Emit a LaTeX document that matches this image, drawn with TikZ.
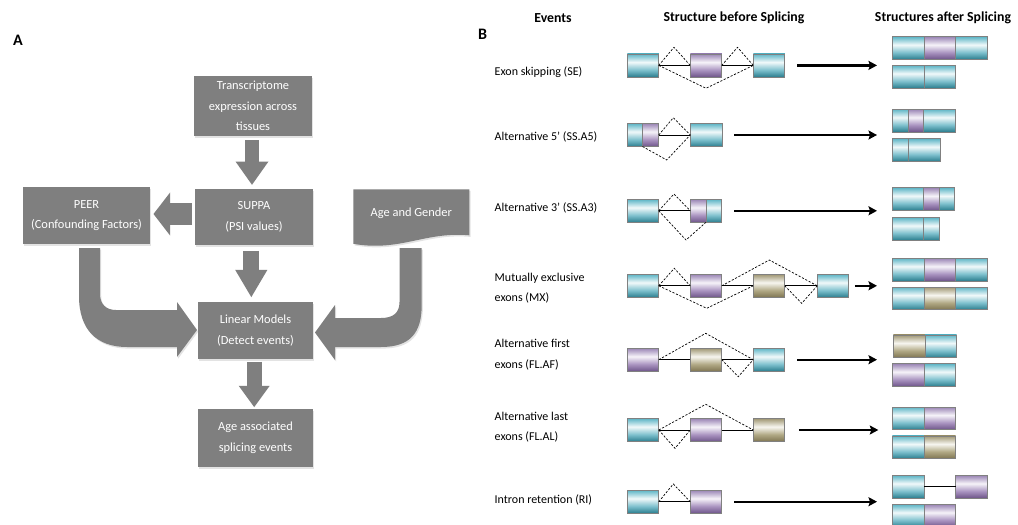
\documentclass[tikz,border=0pt]{standalone}
\usepackage{fontspec}
\setmainfont{Carlito}
\usetikzlibrary{arrows.meta,shadows}

% flow chart grey
\definecolor{boxgray}{HTML}{7F7F7F}
% exon colours: top, white, mid, dark
\definecolor{tealT}{HTML}{5DB5C6}
\definecolor{tealW}{HTML}{F1F9FA}
\definecolor{tealM}{HTML}{7DC0CD}
\definecolor{tealD}{HTML}{2B7D8E}
\definecolor{purpT}{HTML}{9A85B5}
\definecolor{purpW}{HTML}{F6F3F9}
\definecolor{purpM}{HTML}{A993C0}
\definecolor{purpD}{HTML}{6E5589}
\definecolor{khakT}{HTML}{A09774}
\definecolor{khakW}{HTML}{F7F6F0}
\definecolor{khakM}{HTML}{B0A884}
\definecolor{khakD}{HTML}{7F7552}

\pgfdeclareverticalshading{tealx}{100bp}{color(0bp)=(tealD); color(25bp)=(tealD); color(40bp)=(tealM); color(57bp)=(tealW); color(75bp)=(tealT); color(100bp)=(tealT)}
\pgfdeclareverticalshading{purplex}{100bp}{color(0bp)=(purpD); color(25bp)=(purpD); color(40bp)=(purpM); color(57bp)=(purpW); color(75bp)=(purpT); color(100bp)=(purpT)}
\pgfdeclareverticalshading{khakix}{100bp}{color(0bp)=(khakD); color(25bp)=(khakD); color(40bp)=(khakM); color(57bp)=(khakW); color(75bp)=(khakT); color(100bp)=(khakT)}

% exon segment: name, shading, left x, right x, centre y, height
\newcommand\xseg[6]{\node[exon, shading=#2, minimum width={(#4-#3)*1pt}, minimum height=#6] (#1) at ({(#3+#4)/2},#5) {};}

\begin{document}
\begin{tikzpicture}[x=1pt,y=-1pt,
  softshadow/.style={drop shadow={opacity=0.22, shadow xshift=1.2pt, shadow yshift=-1.6pt}},
  paneltext/.style={text=white, align=center, inner sep=0pt, font=\fontsize{12.4}{20.5}\selectfont},
  panelbox/.style={paneltext, fill=boxgray, softshadow},
  blockarrow/.style n args={3}{draw=boxgray, line width=#1, -{Triangle[width=#2, length=#3, line width=0pt]}},
  letter/.style={font=\bfseries\fontsize{16}{18}\selectfont, inner sep=0pt},
  header/.style={font=\bfseries\fontsize{13.8}{16}\selectfont, inner sep=0pt},
  evlabel/.style={anchor=west, align=left, inner sep=0pt, font=\fontsize{12}{20.5}\selectfont},
  exon/.style={draw=black!50, line width=0.6pt, shade, inner sep=0pt, outer sep=0pt},
  intron/.style={line width=0.9pt},
  junction/.style={line width=0.7pt, dash pattern=on 2.2pt off 1.6pt},
  splice/.style={line width=2.2pt, -{Stealth[length=8.5pt, width=9pt, inset=1.5pt]}}
]
\useasboundingbox[fill=white] (0,0) rectangle (1018,525);

% ---------------- panel A: analysis workflow ----------------
\node[letter] (pa) at (18,40) {A};

\node[panelbox, minimum width=118pt, minimum height=60pt] (trans) at (253,106) {Transcriptome\\expression across\\tissues};
\node[panelbox, minimum width=118pt, minimum height=56pt] (suppa) at (254,217) {SUPPA\\(PSI values)};
\node[panelbox, minimum width=127pt, minimum height=57pt] (peer) at (86.5,215.5) {PEER\\(Confounding Factors)};
\node[panelbox, minimum width=115pt, minimum height=57pt] (linear) at (255.5,330.5) {Linear Models\\(Detect events)};
\node[panelbox, minimum width=115pt, minimum height=58pt] (assoc) at (255.5,438) {Age associated\\splicing events};

% document-shaped covariate box
\fill[boxgray, softshadow] (353.3,189.3) -- (469.3,189.3) -- (469.3,235.3)
  .. controls (425,231.3) and (400,252) .. (353.3,243.8) -- cycle;
\node[paneltext] (ag) at (411.3,213.3) {Age and Gender};

% straight block arrows
\draw[blockarrow={14.3pt}{33pt}{23.3pt}, shorten <=4pt, shorten >=4pt]
  ([xshift=-1pt]trans.south) -- ([xshift=-1pt]trans.south |- suppa.north);
\draw[blockarrow={21.7pt}{43.3pt}{16.7pt}, shorten <=3.3pt, shorten >=3.3pt]
  ([yshift=3pt]suppa.west) -- ([yshift=3pt]suppa.west -| peer.east);
\draw[blockarrow={16pt}{32.3pt}{27.3pt}, shorten <=5.7pt, shorten >=4.7pt]
  ([xshift=-2.7pt]suppa.south) -- ([xshift=-2.7pt]suppa.south |- linear.north);
\draw[blockarrow={15pt}{31pt}{21.3pt}, shorten <=2.7pt, shorten >=1.7pt]
  ([xshift=-1.3pt]linear.south) -- ([xshift=-1.3pt]linear.south |- assoc.north);

% bent block arrows into the linear models
\fill[boxgray, softshadow] (79,248) -- (79,296) .. controls (79,330) and (97,347) .. (127,347)
  -- (177,347) -- (177,357) -- (197,330) -- (177,302) -- (177,310) -- (116,310)
  .. controls (106,310) and (100,304) .. (100,294) -- (100,248) -- cycle;
\fill[boxgray, softshadow] (399.5,248) -- (399.5,302) .. controls (399.5,313) and (393,318) .. (381,318)
  -- (335,318) -- (335,305) -- (315,332.5) -- (335,360) -- (335,347) -- (381,347)
  .. controls (410,347) and (421.7,333) .. (421.7,305) -- (421.7,248) -- cycle;

% ---------------- panel B: splicing event types ----------------
\node[letter] (pb) at (482.5,34) {B};
\node[header] (h1) at (553,18.3) {Events};
\node[header] (h2) at (734,18.3) {Structure before Splicing};
\node[header] (h3) at (943,18.3) {Structures after Splicing};

\node[evlabel] (l1) at (494.5,71.7) {Exon skipping (SE)};
\node[evlabel] (l2) at (494.5,136.7) {Alternative 5’ (SS.A5)};
\node[evlabel] (l3) at (494.5,208.3) {Alternative 3’ (SS.A3)};
\node[evlabel] (l4) at (494.5,288.3) {Mutually exclusive\\exons (MX)};
\node[evlabel] (l5) at (494.5,354.5) {Alternative first\\exons (FL.AF)};
\node[evlabel] (l6) at (494.5,427) {Alternative last\\exons (FL.AL)};
\node[evlabel] (l7) at (494.5,500) {Intron retention (RI)};

% row 1: exon skipping
\xseg{a1}{tealx}{627.25}{658.75}{65.4}{23pt}
\xseg{a2}{purplex}{690.25}{721.75}{65.4}{23pt}
\xseg{a3}{tealx}{753.25}{784.75}{65.4}{23pt}
\draw[intron] (a1.east) -- (a2.west);
\draw[intron] (a2.east) -- (a3.west);
\coordinate (a1u) at (674,47.3);
\coordinate (a2u) at (737.5,47.3);
\coordinate (a1d) at (706,88.3);
\draw[junction] (a1.east) -- (a1u) -- (a2.west);
\draw[junction] (a2.east) -- (a2u) -- (a3.west);
\draw[junction] (a1.east) -- (a1d) -- (a3.west);
\coordinate (t1) at (877,65.5);
\draw[splice] ([xshift=12.5pt]a3.east) -- (a3.east -| t1);
\xseg{b1a}{tealx}{892.3}{924}{48}{22.6pt}
\xseg{b1b}{purplex}{924}{955.6}{48}{22.6pt}
\xseg{b1c}{tealx}{955.6}{987.3}{48}{22.6pt}
\xseg{c1a}{tealx}{892.3}{924}{76.7}{22.6pt}
\xseg{c1b}{tealx}{924}{955.6}{76.7}{22.6pt}

% row 2: alternative 5' splice site
\xseg{a4}{tealx}{627.25}{642.5}{135}{23pt}
\xseg{a5}{purplex}{642.5}{658.75}{135}{23pt}
\xseg{a6}{tealx}{690.25}{722}{135}{23pt}
\draw[intron] (a5.east) -- (a6.west);
\coordinate (a5u) at (673.3,117.7);
\coordinate (a5d) at (666.7,160);
\draw[junction] (a5.east) -- (a5u) -- (a6.west);
\draw[junction] (a5.south west) -- (a5d) -- (a6.west);
\coordinate (t2) at (877,135.5);
\draw[splice] ([xshift=12.3pt]a6.east) -- (a6.east -| t2);
\xseg{b2a}{tealx}{892.3}{908.3}{120.5}{22.6pt}
\xseg{b2b}{purplex}{908.3}{923.3}{120.5}{22.6pt}
\xseg{b2c}{tealx}{923.3}{955}{120.5}{22.6pt}
\xseg{c2a}{tealx}{892.3}{908.3}{150}{22.6pt}
\xseg{c2b}{tealx}{908.3}{940}{150}{22.6pt}

% row 3: alternative 3' splice site
\xseg{a7}{tealx}{627.25}{658.75}{210.8}{23pt}
\xseg{a8}{purplex}{690.25}{706}{210.8}{23pt}
\xseg{a9}{tealx}{706}{721.75}{210.8}{23pt}
\draw[intron] (a7.east) -- (a8.west);
\coordinate (a7u) at (674,194);
\coordinate (a7d) at (686,240);
\draw[junction] (a7.east) -- (a7u) -- (a8.west);
\draw[junction] (a7.east) -- (a7d) -- (a9.south west);
\coordinate (t3) at (877,211);
\draw[splice] ([xshift=12.5pt]a9.east) -- (a9.east -| t3);
\xseg{b3a}{tealx}{892.3}{923.3}{199}{22.6pt}
\xseg{b3b}{purplex}{923.3}{939.7}{199}{22.6pt}
\xseg{b3c}{tealx}{939.7}{954.3}{199}{22.6pt}
\xseg{c3a}{tealx}{892.3}{923.3}{228.8}{22.6pt}
\xseg{c3b}{tealx}{923.3}{939.7}{228.8}{22.6pt}

% row 4: mutually exclusive exons
\xseg{a10}{tealx}{627.25}{658.75}{285.8}{23pt}
\xseg{a11}{purplex}{690.25}{721.75}{285.8}{23pt}
\xseg{a12}{khakix}{753.25}{784.75}{285.8}{23pt}
\xseg{a13}{tealx}{817.25}{848.75}{285.8}{23pt}
\draw[intron] (a10.east) -- (a11.west);
\draw[intron] (a11.east) -- (a12.west);
\draw[intron] (a12.east) -- (a13.west);
\coordinate (a10u) at (674.3,268.3);
\coordinate (a10d) at (706.7,308.3);
\coordinate (a11u) at (769.3,260);
\coordinate (a12d) at (801.7,303.3);
\draw[junction] (a10.east) -- (a10u) -- (a11.west);
\draw[junction] (a10.east) -- (a10d) -- (a12.west);
\draw[junction] (a11.east) -- (a11u) -- (a13.west);
\draw[junction] (a12.east) -- (a12d) -- (a13.west);
\coordinate (t4) at (877,285.8);
\draw[splice] ([xshift=6pt]a13.east) -- (a13.east -| t4);
\xseg{b4a}{tealx}{892.3}{924}{269.5}{22.6pt}
\xseg{b4b}{purplex}{924}{955.6}{269.5}{22.6pt}
\xseg{b4c}{tealx}{955.6}{987.3}{269.5}{22.6pt}
\xseg{c4a}{tealx}{892.3}{924}{298.3}{22.6pt}
\xseg{c4b}{khakix}{924}{955.6}{298.3}{22.6pt}
\xseg{c4c}{tealx}{955.6}{987.3}{298.3}{22.6pt}

% row 5: alternative first exons
\xseg{a14}{purplex}{627.25}{658.75}{359.7}{23pt}
\xseg{a15}{khakix}{690.25}{721.75}{359.7}{23pt}
\xseg{a16}{tealx}{753.25}{784.75}{359.7}{23pt}
\draw[intron] (a14.east) -- (a15.west);
\draw[intron] (a15.east) -- (a16.west);
\coordinate (a14u) at (705.7,333.3);
\coordinate (a15d) at (738.3,376.7);
\draw[junction] (a14.east) -- (a14u) -- (a16.west);
\draw[junction] (a15.east) -- (a15d) -- (a16.west);
\coordinate (t5) at (877,359.5);
\draw[splice] ([xshift=12.5pt]a16.east) -- (a16.east -| t5);
\xseg{b5a}{khakix}{893.3}{925}{346.2}{22.6pt}
\xseg{b5b}{tealx}{925}{956.7}{346.2}{22.6pt}
\xseg{c5a}{purplex}{892.3}{924}{375}{22.6pt}
\xseg{c5b}{tealx}{924}{955.6}{375}{22.6pt}

% row 6: alternative last exons
\xseg{a17}{tealx}{627.25}{658.75}{430}{23pt}
\xseg{a18}{purplex}{690.25}{721.75}{430}{23pt}
\xseg{a19}{khakix}{753.25}{784.75}{430}{23pt}
\draw[intron] (a17.east) -- (a18.west);
\draw[intron] (a18.east) -- (a19.west);
\coordinate (a17u) at (705.7,404.3);
\coordinate (a17d) at (675,448.3);
\draw[junction] (a17.east) -- (a17u) -- (a19.west);
\draw[junction] (a17.east) -- (a17d) -- (a18.west);
\coordinate (t6) at (878.3,430);
\draw[splice] ([xshift=14pt]a19.east) -- (a19.east -| t6);
\xseg{b6a}{tealx}{892.3}{924}{418.3}{22.6pt}
\xseg{b6b}{purplex}{924}{955.6}{418.3}{22.6pt}
\xseg{c6a}{tealx}{892.3}{924}{447.2}{22.6pt}
\xseg{c6b}{khakix}{924}{955.6}{447.2}{22.6pt}

% row 7: intron retention
\xseg{a20}{tealx}{627.25}{658.75}{501.7}{23pt}
\xseg{a21}{purplex}{690.25}{721.75}{501.7}{23pt}
\draw[intron] (a20.east) -- (a21.west);
\coordinate (a20u) at (673.3,484);
\draw[junction] (a20.east) -- (a20u) -- (a21.west);
\coordinate (t7) at (877,501);
\draw[splice] ([xshift=12.5pt]a21.east) -- (a21.east -| t7);
\xseg{b7a}{tealx}{892.3}{924}{486.7}{22.6pt}
\xseg{b7b}{purplex}{955.6}{987.3}{486.7}{22.6pt}
\draw[intron] (b7a.east) -- (b7b.west);
\xseg{c7a}{tealx}{892.3}{924}{515.7}{22.6pt}
\xseg{c7b}{purplex}{924}{955.6}{515.7}{22.6pt}
\end{tikzpicture}
\end{document}
